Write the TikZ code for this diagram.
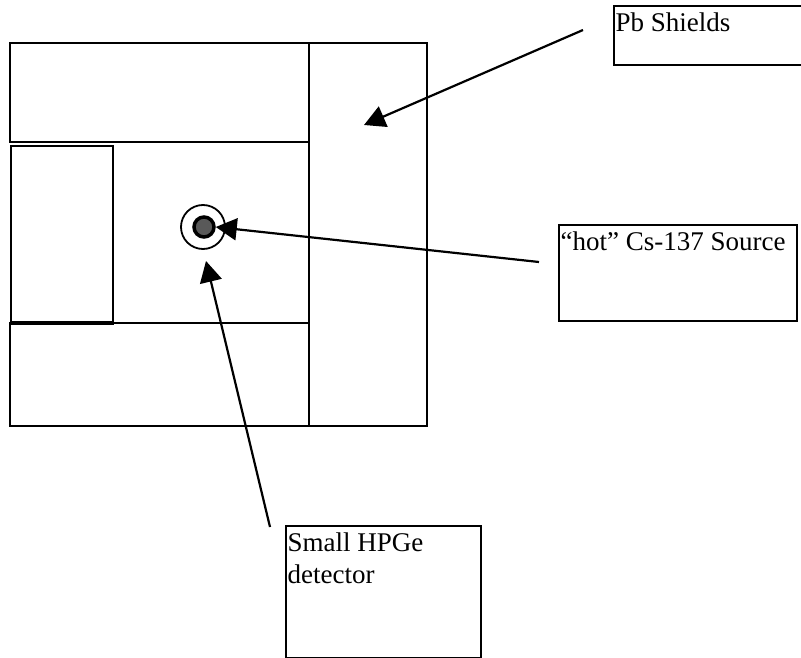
\documentclass[tikz,border=0pt]{standalone}
\usepackage{fontspec}
\setmainfont{Liberation Serif}
\usetikzlibrary{arrows.meta,positioning}

\begin{document}
\begin{tikzpicture}[
    x=1pt,
    y=-1pt,
    font=\fontsize{27}{32}\selectfont,
    >={Triangle[length=21pt,width=22pt]},
    shield/.style={
        rectangle,
        draw=black,
        line width=2pt,
        anchor=north west,
        inner sep=0pt
    },
    labelbox/.style={
        rectangle,
        draw=black,
        line width=2.4pt,
        anchor=north west,
        inner sep=0pt
    },
    labeltext/.style={
        anchor=north west,
        align=left,
        inner xsep=2.5pt,
        inner ysep=8pt
    },
    pointer/.style={->, line width=2.2pt, draw=black}
]
\useasboundingbox (0,0) rectangle (801,658);

% lead shields
\node[shield, minimum width=299pt, minimum height=99pt] (shieldtop) at (9,42) {};
\node[shield, minimum width=118pt, minimum height=383pt] (shieldright) at (308,42) {};
\node[shield, minimum width=299pt, minimum height=103pt] (shieldbottom) at (9,322) {};
\node[shield, minimum width=102pt, minimum height=176pt] (shieldleft) at (10,145) {};
\draw[line width=3pt] (shieldleft.south west) -- (shieldleft.south east);

% detector and source
\node[circle, draw=black, line width=1.8pt, minimum size=44pt, inner sep=0pt] (detector) at (203,227) {};
\node[circle, draw=black, fill=black!65, line width=3.5pt, minimum size=20pt, inner sep=0pt] (source) at (204,227) {};

% labels
\node[labelbox, minimum width=189pt, minimum height=59pt] (pblabel) at (613,5) {};
\node[labelbox, minimum width=238pt, minimum height=96pt] (hotlabel) at (558,224) {};
\node[labelbox, minimum width=195pt, minimum height=132pt] (gelabel) at (285,525) {};
\node[labeltext] (pbtext) at (pblabel.north west) {Pb Shields};
\node[labeltext] (hottext) at (hotlabel.north west) {``hot'' Cs-137 Source};
\node[labeltext] (getext) at (gelabel.north west) {Small HPGe\\detector};

\coordinate (pbtail) at (583,30);
\coordinate (pbtip) at (364,125);
\coordinate (hottail) at (539,262);
\coordinate (getail) at (270,527);
\coordinate (getip) at (206,261);

\draw[pointer] (pbtail) -- (pbtip);
\draw[pointer] (hottail) -- (source.east);
\draw[pointer] (getail) -- (getip);

\end{tikzpicture}
\end{document}
